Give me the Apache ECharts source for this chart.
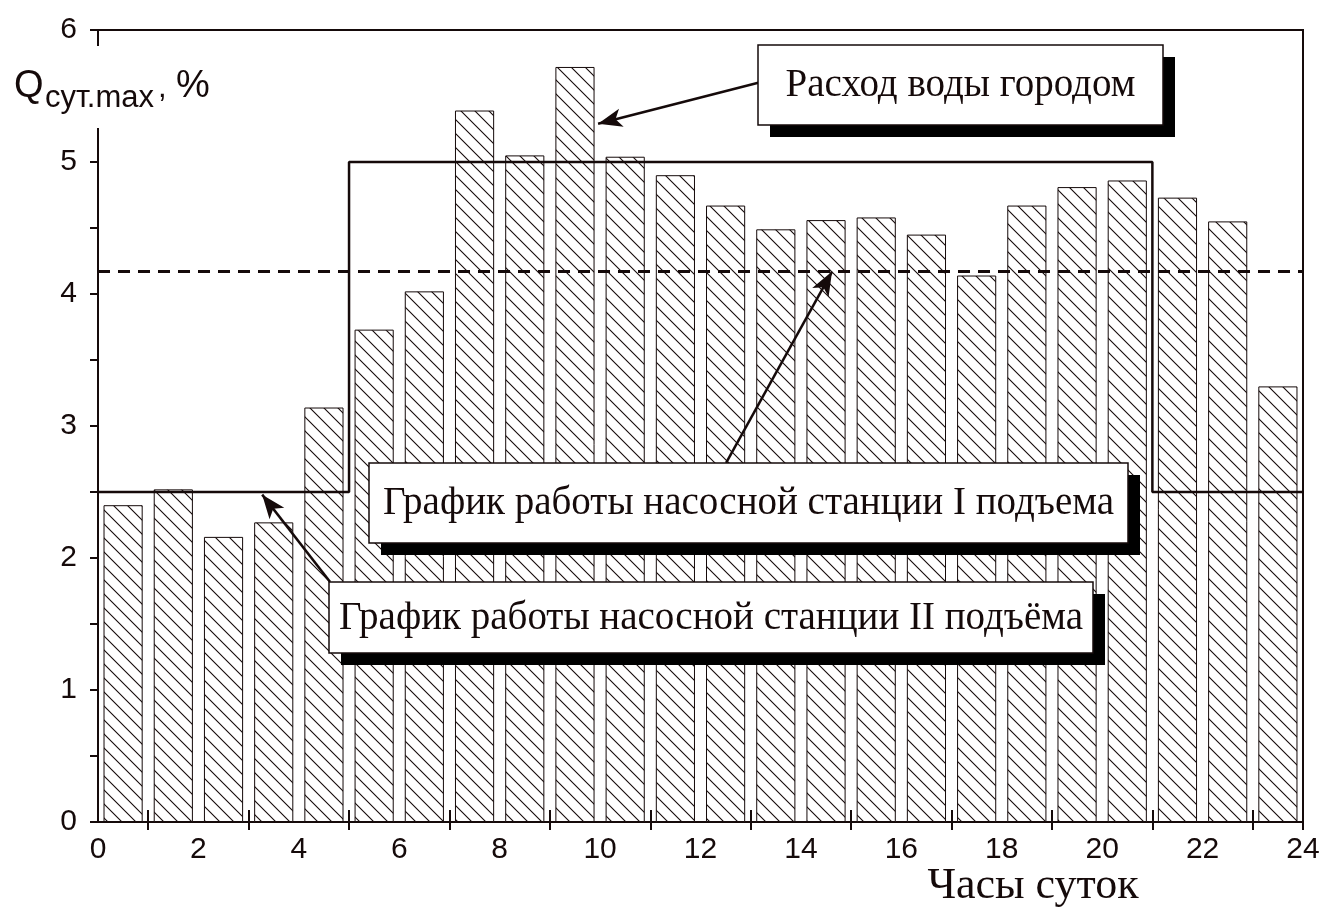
<!DOCTYPE html>
<html>
<head>
<meta charset="utf-8">
<script src="https://cdn.jsdelivr.net/npm/echarts@6/dist/echarts.min.js"></script>
<style>
  html, body { margin: 0; padding: 0; background: #fff; }
  #chart { width: 1326px; height: 914px; }
</style>
</head>
<body>
<div id="chart"></div>
<script>
// часы суток (категории для столбцов)
const hourCategories = ['0', '1', '2', '3', '4', '5', '6', '7', '8', '9', '10', '11',
  '12', '13', '14', '15', '16', '17', '18', '19', '20', '21', '22', '23']
// расход воды городом, % от суточного
const cityConsumption = [2.40, 2.52, 2.16, 2.27, 3.14, 3.73, 4.02, 5.39, 5.05, 5.72, 5.04, 4.90,
  4.67, 4.49, 4.56, 4.58, 4.45, 4.14, 4.67, 4.81, 4.86, 4.73, 4.55, 3.30]
// насосная станция II подъёма: границы режимов (ч) и подача в них (%)
const pumpIIBreaks = [0, 5, 21, 24]
const pumpIIRates = [2.5, 5.0, 2.5]
// насосная станция I подъема: равномерная подача
const pumpIRate = 4.17
// подписи осей
const yTicks = [0, 1, 2, 3, 4, 5, 6]
const xTicks = [0, 2, 4, 6, 8, 10, 12, 14, 16, 18, 20, 22, 24]

// стрелки выносок [откуда, куда] в координатах графика
const arrowLines = [
  [[13.15, 5.60], [9.96, 5.29]],
  [[12.51, 2.72], [14.62, 4.17]],
  [[4.62, 1.82], [3.27, 2.48]]
]

const INK = '#150a0a'

// штриховка столбцов
function makeHatch() {
  const c = document.createElement('canvas')
  const s = 14
  c.width = s
  c.height = s
  const ctx = c.getContext('2d')
  ctx.fillStyle = '#fff'
  ctx.fillRect(0, 0, s, s)
  ctx.strokeStyle = INK
  ctx.lineWidth = 1.1
  ctx.beginPath()
  ctx.moveTo(-2, -2); ctx.lineTo(s + 2, s + 2)
  ctx.moveTo(-2, s - 2); ctx.lineTo(2, s + 2)
  ctx.moveTo(s - 2, -2); ctx.lineTo(s + 2, 2)
  ctx.stroke()
  return c
}

// ступенчатый график работы НС-II
const stepData = []
pumpIIRates.forEach((r, i) => {
  stepData.push([pumpIIBreaks[i], r])
  stepData.push([pumpIIBreaks[i + 1], r])
})

// выноска: тень, белая рамка, текст
function calloutBox(left, top, w, h, text) {
  return [
    { type: 'rect', z: 100, shape: { x: left + 12, y: top + 12, width: w, height: h }, style: { fill: '#000' } },
    { type: 'rect', z: 101, shape: { x: left, y: top, width: w, height: h }, style: { fill: '#fff', stroke: INK, lineWidth: 1.5 } },
    {
      type: 'text', z: 102,
      style: {
        x: left + w / 2, y: top + h / 2 + 1, text: text, align: 'center', verticalAlign: 'middle',
        font: '39px "Liberation Serif", "Times New Roman", serif', fill: INK
      }
    }
  ]
}

const chart = echarts.init(document.getElementById('chart'))
const option = {
  animation: false,
  backgroundColor: '#fff',
  grid: {
    left: 98, right: 23, top: 30, bottom: 92,
    show: true, borderColor: INK, borderWidth: 2, backgroundColor: 'transparent'
  },
  xAxis: [
    {
      type: 'value', min: xTicks[0], max: xTicks[xTicks.length - 1], interval: 2,
      axisLine: { lineStyle: { color: INK, width: 2 } },
      axisTick: { show: false },
      splitLine: { show: false },
      axisLabel: { color: INK, fontSize: 30, fontFamily: '"Liberation Sans", Arial, sans-serif', margin: 13 }
    },
    {
      type: 'category', data: hourCategories, position: 'bottom', offset: 8,
      axisLine: { show: false },
      axisTick: { show: true, inside: true, length: 20, interval: (i) => i % 2 === 1, lineStyle: { color: INK, width: 2 } },
      axisLabel: { show: false },
      splitLine: { show: false }
    }
  ],
  yAxis: {
    type: 'value', min: yTicks[0], max: yTicks[yTicks.length - 1], interval: 1,
    axisLine: { show: true, lineStyle: { color: INK, width: 2 } },
    axisTick: { show: true, length: 8, lineStyle: { color: INK, width: 2 } },
    minorTick: { show: true, splitNumber: 2, length: 8, lineStyle: { color: INK, width: 2 } },
    splitLine: { show: false },
    axisLabel: { color: INK, fontSize: 30, fontFamily: '"Liberation Sans", Arial, sans-serif', margin: 21 }
  },
  series: [
    {
      name: 'Расход воды городом',
      type: 'bar',
      xAxisIndex: 1,
      data: cityConsumption,
      barCategoryGap: '22%',
      itemStyle: { color: { image: makeHatch(), repeat: 'repeat' }, borderColor: INK, borderWidth: 1 },
      z: 2
    },
    {
      name: 'НС I подъема',
      type: 'line',
      data: [[xTicks[0], pumpIRate], [xTicks[xTicks.length - 1], pumpIRate]],
      symbol: 'none',
      lineStyle: { color: INK, width: 3, type: [12, 8] },
      z: 3
    },
    {
      name: 'НС II подъёма',
      type: 'line',
      data: stepData,
      symbol: 'none',
      lineStyle: { color: INK, width: 2.5 },
      z: 4,
      markLine: {
        silent: true,
        symbol: ['none', 'arrow'],
        symbolSize: [14, 24],
        label: { show: false },
        lineStyle: { color: INK, width: 2.5, type: 'solid' },
        data: arrowLines.map(([a, b]) => [{ coord: a }, { coord: b }])
      }
    }
  ],
  graphic: [
    // подпись оси Y
    { type: 'rect', z: 90, shape: { x: 12, y: 46, width: 200, height: 82 }, style: { fill: '#fff' } },
    { type: 'text', z: 91, style: { x: 14, y: 87, text: 'Q', verticalAlign: 'middle', font: '38px "Liberation Sans", Arial, sans-serif', fill: INK } },
    { type: 'text', z: 91, style: { x: 45, y: 98, text: 'сут.max', verticalAlign: 'middle', font: '31px "Liberation Sans", Arial, sans-serif', fill: INK } },
    { type: 'text', z: 91, style: { x: 158, y: 88, text: ',', verticalAlign: 'middle', font: '31px "Liberation Sans", Arial, sans-serif', fill: INK } },
    { type: 'text', z: 91, style: { x: 176, y: 87, text: '%', verticalAlign: 'middle', font: '38px "Liberation Sans", Arial, sans-serif', fill: INK } },
    // подпись оси X
    { type: 'text', z: 91, style: { x: 1033, y: 886, text: 'Часы суток', align: 'center', verticalAlign: 'middle', font: '44px "Liberation Serif", "Times New Roman", serif', fill: INK } }
  ]
    .concat(calloutBox(758, 45, 405, 80, 'Расход воды городом'))
    .concat(calloutBox(369, 463, 759, 80, 'График работы насосной станции I подъема'))
    .concat(calloutBox(329, 582, 764, 71, 'График работы насосной станции II подъёма'))
}
chart.setOption(option)
</script>
</body>
</html>
